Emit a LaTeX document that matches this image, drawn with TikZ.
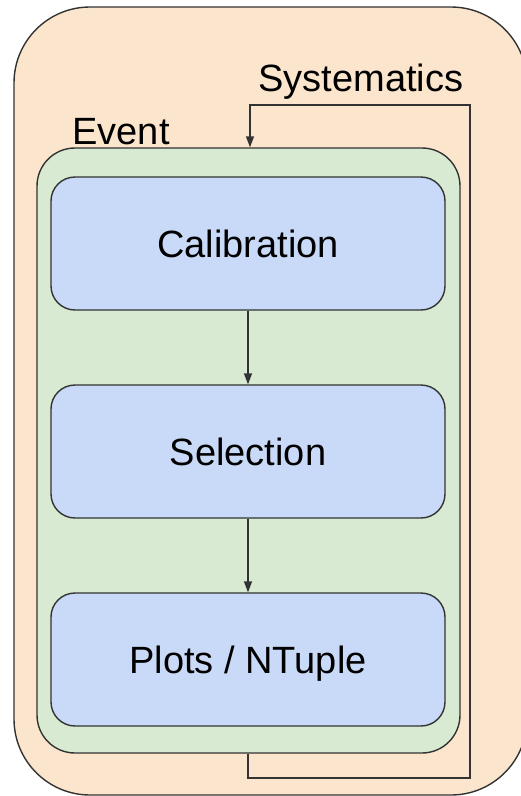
\documentclass[tikz,border=0pt]{standalone}
\usepackage{fontspec}
\setmainfont{Liberation Sans}
\usetikzlibrary{arrows.meta}
\definecolor{outerfill}{HTML}{FCE5CD}
\definecolor{greenfill}{HTML}{D9EAD3}
\definecolor{bluefill}{HTML}{C9DAF8}
\definecolor{strokec}{HTML}{333333}
\begin{document}
\begin{tikzpicture}[x=1pt,y=-1pt,
  box/.style={draw=strokec,line width=1.4pt,rectangle,inner sep=0pt},
  stepbox/.style={box,fill=bluefill,rounded corners=24pt,minimum width=394pt,minimum height=133pt,font=\fontsize{38}{45}\selectfont,text height=27pt,text depth=0pt},
  lbl/.style={font=\fontsize{38}{45}\selectfont,inner sep=0pt,text height=27pt,text depth=0pt},
  conn/.style={draw=strokec,line width=1.4pt,-{Triangle[length=11pt,width=8pt]}},
  plain/.style={draw=strokec,line width=1.4pt}]
\useasboundingbox (0,0) rectangle (521,796);
\node[box,fill=outerfill,rounded corners=76pt,minimum width=513pt,minimum height=788pt] (outer) at (270.5,401) {};
\node[box,fill=greenfill,rounded corners=38pt,minimum width=423pt,minimum height=605pt] (event) at (248.5,450.5) {};
\node[stepbox] (cal) at (248,243.5) {Calibration};
\node[stepbox] (sel) at (248,451.5) {Selection};
\node[stepbox] (plot) at (248,659.5) {Plots / NTuple};
\node[lbl] (evlbl) at (121,131) {Event};
\node[lbl] (syslbl) at (361,78) {Systematics};
\coordinate (b1) at (248,778);
\coordinate (b2) at (470,778);
\coordinate (t1) at (470,105);
\coordinate (t2) at (250,105);
\draw[conn] (cal.south) -- (sel.north);
\draw[conn] (sel.south) -- (plot.north);
\draw[conn] (event.south -| b1) -- (b1) -- (b2) -- (t1) -- (t2) -- (t2 |- event.north);
\end{tikzpicture}
\end{document}
